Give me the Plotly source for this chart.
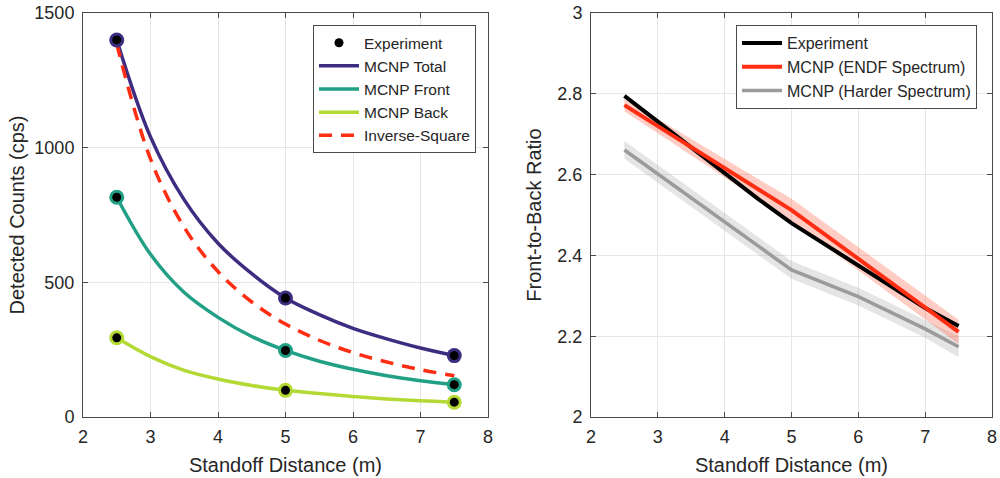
import plotly.graph_objects as go

# ---------------- Left panel data ----------------
exp_x = [2.5, 5.0, 7.5]
exp_total = [1400, 442, 228]
exp_front = [816, 247, 120]
exp_back = [294, 99, 55]

mcnp_x = [2.5, 3.0, 3.5, 4.0, 4.5, 5.0, 5.5, 6.0, 6.5, 7.0, 7.5]
mcnp_total = [1400, 1040, 806, 645, 532, 442, 380, 329, 290, 256, 228]
mcnp_front = [816, 604, 462, 370, 299, 247, 207, 177, 153, 135, 120]
mcnp_back = [294, 224, 173, 141, 117, 99, 87, 76, 67, 60, 55]
inv_sq = [1385, 958, 704, 540, 427, 345, 285, 239, 204, 176, 153]

# ---------------- Right panel data ----------------
ratio_exp_x = [2.5, 4.0, 4.5, 5.0, 6.0, 7.0, 7.5]
ratio_exp = [2.795, 2.605, 2.54, 2.48, 2.375, 2.27, 2.225]

endf_x = [2.5, 5.0, 7.5]
endf = [2.772, 2.512, 2.211]
endf_err = [0.015, 0.028, 0.03]

hard_x = [2.5, 5.0, 6.0, 7.0, 7.5]
hard = [2.661, 2.364, 2.298, 2.218, 2.174]
hard_err = [0.022, 0.022, 0.022, 0.022, 0.026]

C_TOTAL = "#3d2c80"
C_FRONT = "#21a086"
C_BACK = "#b3d934"
C_RED = "#ff2d12"
C_GRAY = "#9b9b9b"
FONT = "Liberation Sans, Arial, sans-serif"
TXT = "#262626"

fig = go.Figure()

# MCNP curves
for name, ys, col, rk in [("MCNP Total", mcnp_total, C_TOTAL, 2),
                          ("MCNP Front", mcnp_front, C_FRONT, 3),
                          ("MCNP Back", mcnp_back, C_BACK, 4)]:
    fig.add_trace(go.Scatter(x=mcnp_x, y=ys, mode="lines", name=name,
                             line=dict(color=col, width=3.5, shape="spline"),
                             xaxis="x", yaxis="y", legend="legend", legendrank=rk))

fig.add_trace(go.Scatter(x=mcnp_x, y=inv_sq, mode="lines", name="Inverse-Square",
                         line=dict(color=C_RED, width=3.5, dash="13px,9px", shape="spline"),
                         xaxis="x", yaxis="y", legend="legend", legendrank=5))

# halos around experiment points
for ys, col in [(exp_total, C_TOTAL), (exp_front, C_FRONT), (exp_back, C_BACK)]:
    fig.add_trace(go.Scatter(x=exp_x, y=ys, mode="markers", showlegend=False,
                             marker=dict(color=col, size=15),
                             xaxis="x", yaxis="y", hoverinfo="skip"))

fig.add_trace(go.Scatter(x=exp_x * 3, y=exp_total + exp_front + exp_back,
                         mode="markers", name="Experiment",
                         marker=dict(color="black", size=9),
                         xaxis="x", yaxis="y", legend="legend", legendrank=1))

# Right panel bands
def band(xs, ys, err, color):
    up = [y + e for y, e in zip(ys, err)]
    lo = [y - e for y, e in zip(ys, err)]
    return go.Scatter(x=xs + xs[::-1], y=up + lo[::-1], fill="toself",
                      fillcolor=color, line=dict(width=0), mode="lines",
                      showlegend=False, hoverinfo="skip", xaxis="x2", yaxis="y2")

fig.add_trace(band(hard_x, hard, hard_err, "rgba(170,170,170,0.3)"))
fig.add_trace(band(endf_x, endf, endf_err, "rgba(255,90,60,0.3)"))

fig.add_trace(go.Scatter(x=ratio_exp_x, y=ratio_exp, mode="lines", name="Experiment",
                         line=dict(color="black", width=4),
                         xaxis="x2", yaxis="y2", legend="legend2", legendrank=1))
fig.add_trace(go.Scatter(x=endf_x, y=endf, mode="lines", name="MCNP (ENDF Spectrum)",
                         line=dict(color=C_RED, width=4),
                         xaxis="x2", yaxis="y2", legend="legend2", legendrank=2))
fig.add_trace(go.Scatter(x=hard_x, y=hard, mode="lines", name="MCNP (Harder Spectrum)",
                         line=dict(color=C_GRAY, width=3.5),
                         xaxis="x2", yaxis="y2", legend="legend2", legendrank=3))

axis_common = dict(showline=True, mirror="ticks", linecolor="#4a4a4a", linewidth=1,
                   ticks="inside", ticklen=5, tickcolor="#4a4a4a",
                   showgrid=True, gridcolor="#e6e6e6", gridwidth=1, zeroline=False,
                   automargin=False, ticklabeloverflow="allow",
                   tickfont=dict(family=FONT, size=18, color=TXT))

W = 1000.0
title_font = dict(family=FONT, size=20, color=TXT)

fig.update_layout(
    width=1000, height=478,
    paper_bgcolor="white", plot_bgcolor="white",
    margin=dict(l=0, r=0, t=13, b=61),
    font=dict(family=FONT, color=TXT),
    xaxis=dict(domain=[83 / W, 488 / W], range=[2, 8], dtick=1, ticklabelstandoff=3,
               title=dict(text="Standoff Distance (m)", font=title_font, standoff=12),
               anchor="y", **axis_common),
    yaxis=dict(domain=[0, 1], range=[0, 1500], dtick=500, ticklabelstandoff=4,
               title=dict(text="Detected Counts (cps)", font=title_font, standoff=4),
               anchor="x", **axis_common),
    xaxis2=dict(domain=[591 / W, 992 / W], range=[2, 8], dtick=1, ticklabelstandoff=3,
                title=dict(text="Standoff Distance (m)", font=title_font, standoff=12),
                anchor="y2", **axis_common),
    yaxis2=dict(domain=[0, 1], range=[2, 3], dtick=0.2, tickformat=".1~f", ticklabelstandoff=4,
                title=dict(text="Front-to-Back Ratio", font=title_font, standoff=10),
                anchor="x2", **axis_common),
    legend=dict(x=476 / W, y=0.97, xanchor="right", yanchor="top",
                bgcolor="white", bordercolor="#4a4a4a", borderwidth=1,
                font=dict(family=FONT, size=15.5, color=TXT),
                tracegroupgap=0, itemwidth=40),
    legend2=dict(x=977 / W, y=0.97, xanchor="right", yanchor="top",
                 bgcolor="white", bordercolor="#4a4a4a", borderwidth=1,
                 font=dict(family=FONT, size=16, color=TXT),
                 tracegroupgap=0, itemwidth=40),
    showlegend=True,
)

fig.write_html("out.html", config={"displayModeBar": False},
               post_script="document.body.style.margin='0';document.body.style.padding='0';")
